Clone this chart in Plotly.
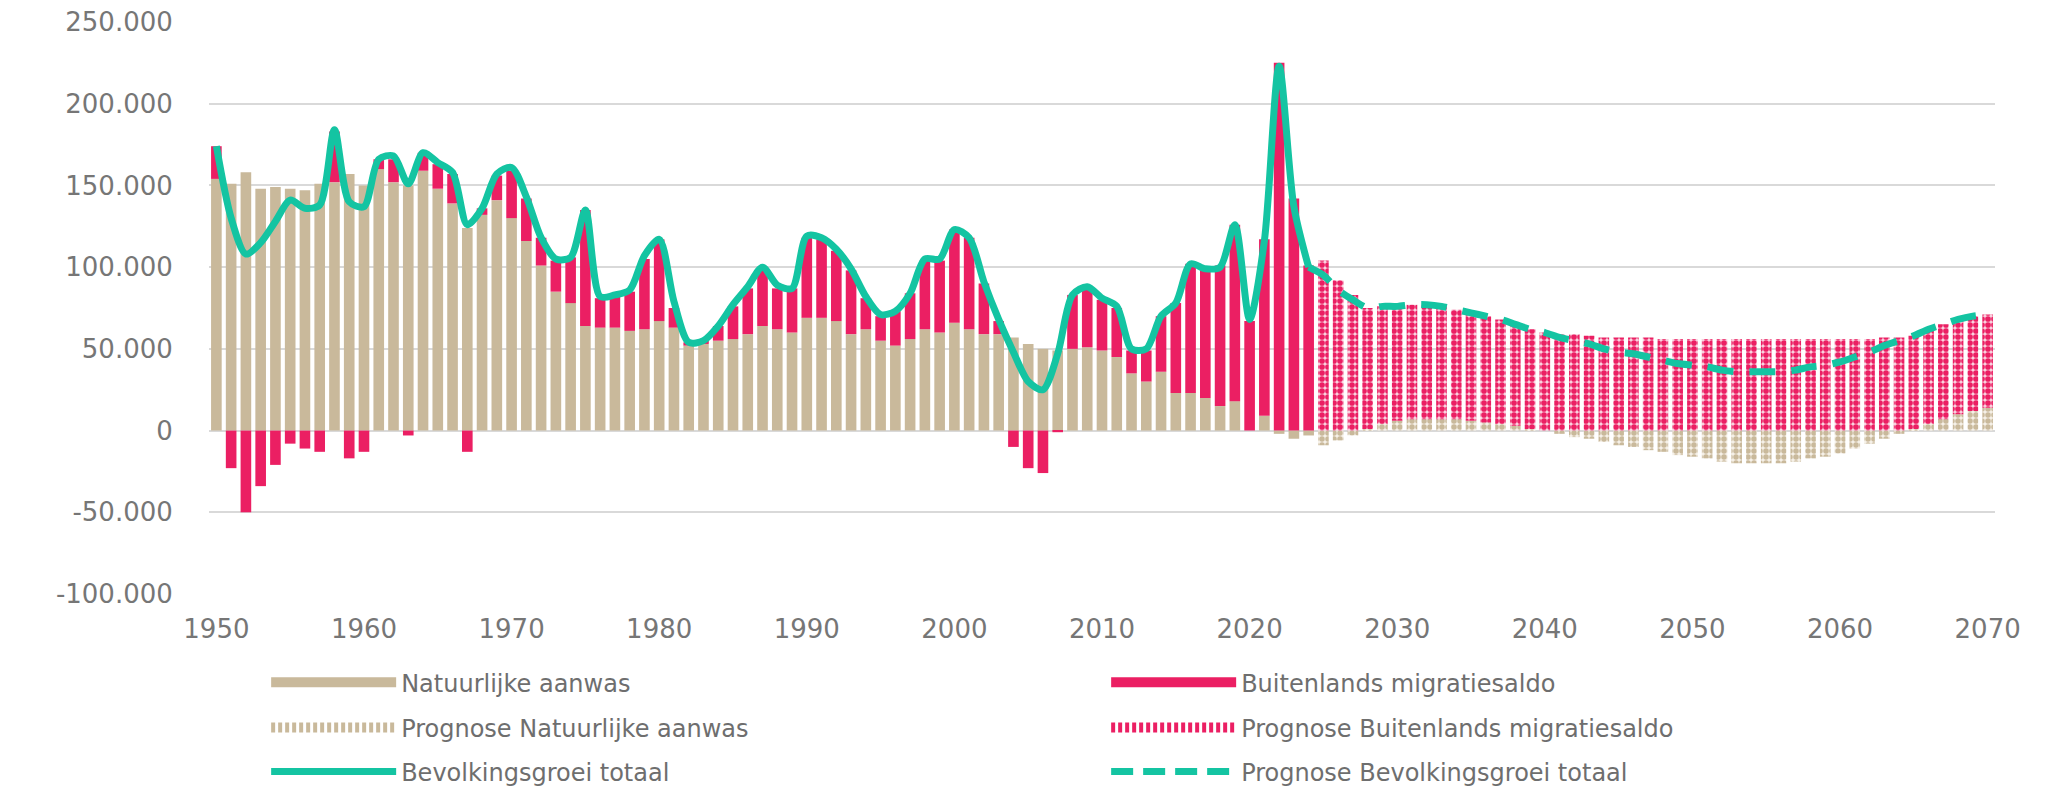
import plotly.graph_objects as go

# ---------------- data (thousands of persons) ----------------
years_hist = list(range(1950, 2025))
nat_hist = [154, 151, 158, 148, 149, 148, 147, 151, 152, 157,
            150, 160, 152, 150, 159, 148, 139, 124, 132, 141,
            130, 116, 101, 85, 78, 64, 63, 63, 61, 62,
            67, 63, 52, 53, 55, 56, 59, 64, 62, 60,
            69, 69, 67, 59, 62, 55, 52, 56, 62, 60,
            66, 62, 59, 59, 57, 53, 50, 49, 50, 51,
            49, 45, 35, 30, 36, 23, 23, 20, 15, 18,
            0, 9, -2, -5, -3]
mig_hist = [20, -23, -50, -34, -21, -8, -11, -13, 31, -17,
            -13, 6, 14, -3, 11, 15, 18, -13, 4, 15,
            29, 26, 17, 19, 28, 71, 18, 20, 24, 43,
            50, 12, 2, 3, 9, 20, 28, 36, 25, 27,
            49, 48, 43, 39, 19, 15, 21, 28, 42, 44,
            57, 56, 31, 8, -10, -23, -26, -1, 33, 37,
            31, 30, 14, 19, 34, 55, 79, 79, 86, 108,
            67, 108, 225, 142, 101]
total_hist = [174, 130, 108, 115, 128, 141, 136, 138, 184, 140,
              137, 166, 168, 151, 170, 164, 158, 126, 136, 157,
              161, 143, 118, 105, 106, 135, 82, 83, 86, 107,
              117, 79, 54, 55, 64, 77, 88, 100, 89, 87,
              119, 118, 111, 99, 82, 71, 73, 84, 105, 105,
              123, 118, 91, 68, 48, 30, 25, 47, 83, 88,
              81, 76, 50, 50, 70, 78, 102, 99, 100, 126,
              68, 116, 223, 137, 100]

years_prog = list(range(2025, 2071))
nat_prog = [-9, -6, -3, 1, 4, 6, 7, 7, 7, 7,
            6, 5, 4, 3, 1, 0, -2, -4, -5, -7,
            -9, -10, -12, -13, -15, -16, -17, -19, -20, -20,
            -20, -20, -19, -17, -16, -14, -11, -8, -5, -2,
            1, 4, 7, 10, 12, 14]
mig_prog = [104, 92, 83, 74, 72, 70, 70, 70, 69, 67,
            66, 65, 64, 62, 61, 60, 59, 59, 58, 57,
            57, 57, 57, 56, 56, 56, 56, 56, 56, 56,
            56, 56, 56, 56, 56, 56, 56, 56, 57, 57,
            57, 58, 58, 58, 58, 57]
years_prog_line = list(range(2024, 2071))
total_prog = [100, 95, 86, 80, 75, 76, 76, 77, 77, 76, 74,
              72, 70, 68, 65, 62, 60, 57, 55, 53, 50,
              48, 47, 45, 43, 41, 40, 39, 37, 36, 36,
              36, 36, 37, 39, 40, 42, 45, 48, 52, 55,
              58, 62, 65, 68, 70, 71]

y_tickvals = [-100, -50, 0, 50, 100, 150, 200, 250]
y_ticktext = ["-100.000", "-50.000", "0", "50.000", "100.000", "150.000", "200.000", "250.000"]
x_tickvals = list(range(1950, 2071, 10))

# ---------------- styles ----------------
BEIGE = "#C9B99B"
RED = "#EB1F63"
TEAL = "#14C4A2"
GRID = "#D9D9D9"
FONT = "DejaVu Sans"

fig = go.Figure()
fig.add_trace(go.Bar(x=years_hist, y=nat_hist, name="Natuurlijke aanwas",
                     marker=dict(color=BEIGE, line=dict(width=0)), showlegend=False))
fig.add_trace(go.Bar(x=years_hist, y=mig_hist, name="Buitenlands migratiesaldo",
                     marker=dict(color=RED, line=dict(width=0)), showlegend=False))
fig.add_trace(go.Bar(x=years_prog, y=nat_prog, name="Prognose Natuurlijke aanwas",
                     marker=dict(color="#F3EDE2", line=dict(width=0),
                                 pattern=dict(shape=".", fgcolor=BEIGE, bgcolor="#F5F0E7",
                                              size=6, solidity=0.65, fillmode="replace")),
                     showlegend=False))
fig.add_trace(go.Bar(x=years_prog, y=mig_prog, name="Prognose Buitenlands migratiesaldo",
                     marker=dict(color="#F9CCDB", line=dict(width=0),
                                 pattern=dict(shape=".", fgcolor=RED, bgcolor="#FAD2DF",
                                              size=6, solidity=0.7, fillmode="replace")),
                     showlegend=False))
fig.add_trace(go.Scatter(x=years_hist, y=total_hist, mode="lines", name="Bevolkingsgroei totaal",
                         line=dict(color=TEAL, width=7, shape="spline", smoothing=0.8),
                         showlegend=False))
fig.add_trace(go.Scatter(x=years_prog_line, y=total_prog, mode="lines",
                         name="Prognose Bevolkingsgroei totaal",
                         line=dict(color=TEAL, width=7, shape="spline", smoothing=0.8,
                                   dash="26px,16px"),
                         showlegend=False))

# legend keys (wide swatches like the original legend)
legend_keys = [
    ("Natuurlijke aanwas", BEIGE, 15, "solid", "legend"),
    ("Buitenlands migratiesaldo", RED, 15, "solid", "legend"),
    ("Prognose Natuurlijke aanwas", BEIGE, 15, "4px,3px", "legend2"),
    ("Prognose Buitenlands migratiesaldo", RED, 15, "4px,3px", "legend2"),
    ("Bevolkingsgroei totaal", TEAL, 7, "solid", "legend3"),
    ("Prognose Bevolkingsgroei totaal", TEAL, 7, "22px,10px", "legend3"),
]
for name, col, w, dash, leg in legend_keys:
    fig.add_trace(go.Scatter(x=[None], y=[None], mode="lines", name=name,
                             line=dict(color=col, width=w, dash=dash), legend=leg,
                             hoverinfo="skip"))

leg_common = dict(orientation="h", xanchor="left", yanchor="middle", x=0.032,
                  font=dict(family=FONT, size=24, color="#6E6E6E"),
                  itemwidth=125, entrywidth=700, entrywidthmode="pixels",
                  bgcolor="rgba(0,0,0,0)", traceorder="normal")

fig.update_layout(
    width=2049, height=793,
    margin=dict(l=209, r=54, t=22, b=199, autoexpand=False),
    paper_bgcolor="white", plot_bgcolor="white",
    barmode="relative", bargap=0.28,
    font=dict(family=FONT, color="#767676"),
    showlegend=True,
    legend=dict(y=-0.155, **leg_common),
    legend2=dict(y=-0.234, **leg_common),
    legend3=dict(y=-0.311, **leg_common),
    xaxis=dict(range=[1949.5, 2070.5], tickmode="array", tickvals=x_tickvals,
               showgrid=False, zeroline=False, showline=False,
               ticks="outside", ticklen=0, tickfont=dict(family=FONT, size=26, color="#767676"),
               ticklabelstandoff=12),
    yaxis=dict(range=[-100, 250], tickmode="array", tickvals=y_tickvals, ticktext=y_ticktext,
               showgrid=True, gridcolor=GRID, gridwidth=2,
               zeroline=True, zerolinecolor=GRID, zerolinewidth=2, showline=False,
               ticks="outside", ticklen=0, tickfont=dict(family=FONT, size=26, color="#767676"),
               ticklabelstandoff=30),
)

fig.write_html("out.html", config={"displayModeBar": False},
               post_script="document.body.style.margin='0';document.body.style.overflow='hidden';")
